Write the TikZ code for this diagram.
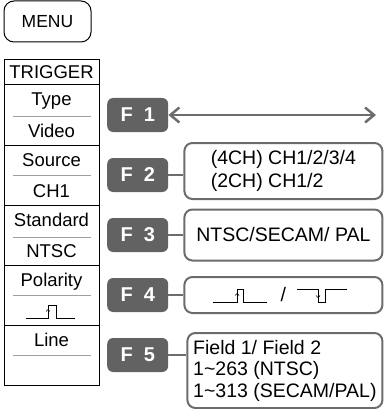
\documentclass[tikz,border=0pt]{standalone}
\usepackage{fontspec}
\setmainfont{Liberation Sans}
\usetikzlibrary{arrows.meta, positioning}

\definecolor{keygray}{RGB}{98,98,98}
\definecolor{boxgray}{RGB}{108,108,108}
\definecolor{sepgray}{RGB}{160,160,160}

\begin{document}
\begin{tikzpicture}[x=1pt, y=-1pt,
    cell/.style={draw, line width=1pt, minimum width=95pt, minimum height=60pt, inner sep=0pt, outer sep=0pt, font=\fontsize{18.5}{20}\selectfont},
    lbl/.style={anchor=base, inner sep=0pt, font=\fontsize{18.5}{20}\selectfont},
    sep/.style={draw=sepgray, line width=0.9pt},
    fkey/.style={fill=keygray, rounded corners=6pt, minimum width=61pt, minimum height=34pt, inner sep=0pt, text=white, font=\fontsize{20}{22}\selectfont\bfseries},
    optbox/.style={draw=boxgray, line width=2pt, rounded corners=8pt, inner sep=0pt, align=left, font=\fontsize{19.5}{23}\selectfont},
    link/.style={draw=boxgray, line width=2.2pt},
    pulse/.style={draw, line width=0.9pt}]
    \useasboundingbox (0,0) rectangle (383,409);

    % menu key
    \node[draw, line width=1pt, rounded corners=10pt, minimum width=87pt, minimum height=41pt, font=\fontsize{17.5}{20}\selectfont] (menu) at (47.5,21.5) {MENU};

    % trigger menu column
    \node[cell, minimum height=25pt] (trig) at (51.5,72.5) {TRIGGER};
    \node[cell, below=0pt of trig] (ctype) {};
    \node[cell, below=0pt of ctype] (csrc) {};
    \node[cell, below=0pt of csrc] (cstd) {};
    \node[cell, below=0pt of cstd] (cpol) {};
    \node[cell, below=0pt of cpol] (cline) {};

    \node[lbl] (ltype) at ([yshift=-21pt]ctype.north) {Type};
    \node[lbl] (lvideo) at ([yshift=-52pt]ctype.north) {Video};
    \draw[sep] ([xshift=9pt, yshift=-31pt]ctype.north west) -- ([xshift=-8pt, yshift=-31pt]ctype.north east);
    \node[lbl] (lsrc) at ([yshift=-21pt]csrc.north) {Source};
    \node[lbl] (lch) at ([yshift=-52pt]csrc.north) {CH1};
    \draw[sep] ([xshift=9pt, yshift=-30pt]csrc.north west) -- ([xshift=-8pt, yshift=-30pt]csrc.north east);
    \node[lbl] (lstd) at ([yshift=-21pt]cstd.north) {Standard};
    \node[lbl] (lntsc) at ([yshift=-52pt]cstd.north) {NTSC};
    \draw[sep] ([xshift=9pt, yshift=-32pt]cstd.north west) -- ([xshift=-8pt, yshift=-32pt]cstd.north east);
    \node[lbl] (lpol) at ([yshift=-21pt]cpol.north) {Polarity};
    \draw[sep] ([xshift=9pt, yshift=-30pt]cpol.north west) -- ([xshift=-8pt, yshift=-30pt]cpol.north east);
    \draw[pulse] (26,318) -- (48,318) -- (48,305) -- (56,305) -- (56,318) -- (75,318);
    \draw[line width=0.7pt, -{Straight Barb[length=2pt, width=4pt]}] (48,315) -- (48,309);
    \node[lbl] (lline) at ([yshift=-21pt]cline.north) {Line};
    \draw[sep] ([xshift=9pt, yshift=-30pt]cline.north west) -- ([xshift=-8pt, yshift=-30pt]cline.north east);

    % function keys
    \node[fkey, right=8pt of ctype] (f1) {F\hspace{11pt}1};
    \node[fkey, right=8pt of csrc] (f2) {F\hspace{11pt}2};
    \node[fkey, right=8pt of cstd] (f3) {F\hspace{11pt}3};
    \node[fkey, right=8pt of cpol] (f4) {F\hspace{11pt}4};
    \node[fkey, right=8pt of cline] (f5) {F\hspace{11pt}5};

    % option boxes
    \node[optbox, minimum width=198pt, minimum height=56pt, right=15pt of f2, yshift=4pt] (opt2) {(4CH) CH1/2/3/4\\(2CH) CH1/2};
    \node[optbox, minimum width=198pt, minimum height=51pt, right=15pt of f3] (opt3) {NTSC/SECAM/ PAL};
    \node[optbox, minimum width=198pt, minimum height=36pt, right=15pt of f4] (opt4) {/};
    \node[optbox, minimum width=195pt, minimum height=75pt, right=18pt of f5, yshift=-15.5pt, font=\fontsize{19.5}{21.5}\selectfont] (opt5) {Field 1/ Field 2\\1\textasciitilde263 (NTSC)\\1\textasciitilde313 (SECAM/PAL)};

    % polarity symbols
    \draw[pulse] (213,302) -- (237,302) -- (237,289) -- (243,289) -- (243,302) -- (267,302);
    \draw[line width=0.7pt, -{Straight Barb[length=2pt, width=4pt]}] (237,299) -- (237,293);
    \draw[pulse] (297,289) -- (318,289) -- (318,302) -- (325,302) -- (325,289) -- (347,289);
    \draw[line width=0.7pt, -{Straight Barb[length=2pt, width=4pt]}] (318,292) -- (318,298);

    % connectors
    \coordinate (f1end) at (376,115);
    \draw[link, line width=2.5pt, {Straight Barb[length=9pt, width=15pt]}-{Straight Barb[length=9pt, width=15pt]}] (f1) -- (f1end);
    \draw[link] (f2) -- (f2 -| opt2.west);
    \draw[link] (f3) -- (opt3);
    \draw[link] (f4) -- (opt4);
    \draw[link] (f5) -- (f5 -| opt5.west);
\end{tikzpicture}
\end{document}
